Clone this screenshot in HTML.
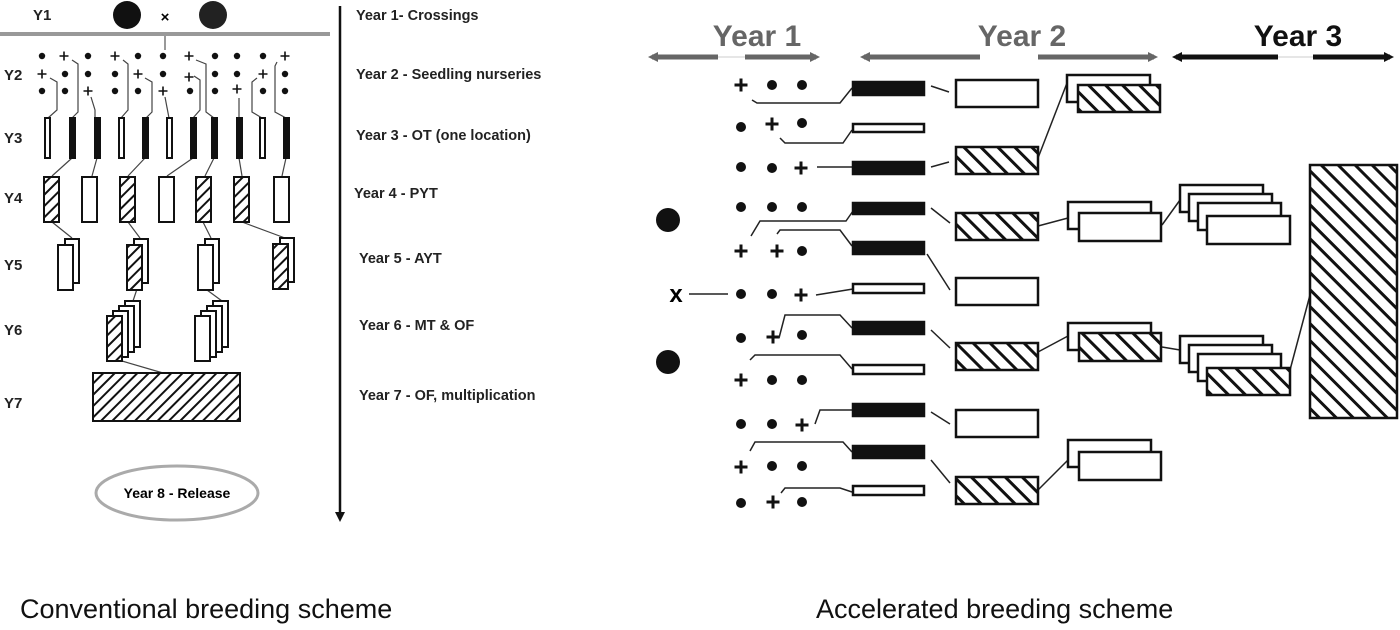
<!DOCTYPE html>
<html><head><meta charset="utf-8"><style>
html,body{margin:0;padding:0;background:#fff;}
svg{display:block;font-family:"Liberation Sans",sans-serif;}
</style></head><body>
<svg width="1400" height="630" viewBox="0 0 1400 630" xmlns="http://www.w3.org/2000/svg">
<defs>
<pattern id="hl" patternUnits="userSpaceOnUse" width="8" height="8" patternTransform="rotate(45)"><rect width="8" height="8" fill="#fff"/><rect x="0" y="0" width="2" height="8" fill="#111"/></pattern>
<pattern id="hr" patternUnits="userSpaceOnUse" width="12" height="12" patternTransform="rotate(-45)"><rect width="12" height="12" fill="#fff"/><rect x="0" y="0" width="3" height="12" fill="#111"/></pattern>
<g id="dot"><circle r="5" fill="#111"/></g>
<g id="pl"><path d="M-6.5 0H6.5M0 -6.5V6.5" stroke="#111" stroke-width="3"/></g>
<g id="dotS"><circle r="3.2" fill="#111"/></g>
<g id="plS"><path d="M-4.5 0H4.5M0 -4.5V4.5" stroke="#111" stroke-width="1.6"/></g>
<marker id="ag" markerWidth="10" markerHeight="10" refX="6" refY="5" orient="auto-start-reverse" markerUnits="userSpaceOnUse"><path d="M0 0L10 5L0 10Z" fill="#666"/></marker>
<marker id="ab" markerWidth="10" markerHeight="10" refX="6" refY="5" orient="auto-start-reverse" markerUnits="userSpaceOnUse"><path d="M0 0L10 5L0 10Z" fill="#111"/></marker>
</defs>

<!-- LEFT -->
<g font-weight="bold" font-size="15" fill="#222">
<text x="33" y="20">Y1</text><text x="4" y="80">Y2</text><text x="4" y="143">Y3</text><text x="4" y="203">Y4</text><text x="4" y="270">Y5</text><text x="4" y="335">Y6</text><text x="4" y="408">Y7</text>
</g>
<circle cx="127" cy="15" r="14" fill="#111"/><circle cx="213" cy="15" r="14" fill="#222"/>
<text x="165" y="22" text-anchor="middle" font-size="15" font-weight="bold">×</text>
<line x1="0" y1="34" x2="330" y2="34" stroke="#999" stroke-width="4"/>
<line x1="165" y1="34" x2="165" y2="50" stroke="#999" stroke-width="2"/>
<g>
<use href="#dotS" x="42" y="56"/><use href="#plS" x="42" y="74"/><use href="#dotS" x="42" y="91"/>
<use href="#plS" x="64" y="56"/><use href="#dotS" x="65" y="74"/><use href="#dotS" x="65" y="91"/>
<use href="#dotS" x="88" y="56"/><use href="#dotS" x="88" y="74"/><use href="#plS" x="88" y="91"/>
<use href="#plS" x="115" y="56"/><use href="#dotS" x="115" y="74"/><use href="#dotS" x="115" y="91"/>
<use href="#dotS" x="138" y="56"/><use href="#plS" x="138" y="74"/><use href="#dotS" x="138" y="91"/>
<use href="#dotS" x="163" y="56"/><use href="#dotS" x="163" y="74"/><use href="#plS" x="163" y="91"/>
<use href="#plS" x="189" y="56"/><use href="#plS" x="189" y="77"/><use href="#dotS" x="190" y="91"/>
<use href="#dotS" x="215" y="56"/><use href="#dotS" x="215" y="74"/><use href="#dotS" x="215" y="91"/>
<use href="#dotS" x="237" y="56"/><use href="#dotS" x="237" y="74"/><use href="#plS" x="237" y="89"/>
<use href="#dotS" x="263" y="56"/><use href="#plS" x="263" y="74"/><use href="#dotS" x="263" y="91"/>
<use href="#plS" x="285" y="56"/><use href="#dotS" x="285" y="74"/><use href="#dotS" x="285" y="91"/>
</g>
<g fill="none" stroke="#444" stroke-width="1.2">
<path d="M50 78L57 82V110L48 118"/><path d="M72 60L78 64V112L72 118"/><path d="M91 97L95 110V118"/>
<path d="M123 60L128 64V110L121 118"/><path d="M145 78L152 82V112L146 118"/><path d="M165 97L169 118"/>
<path d="M194 76L200 80V110L193 118"/><path d="M196 60L206 64V112L214 118"/><path d="M239 98V118"/>
<path d="M257 78L252 82V112L262 118"/><path d="M277 62L275 66V112L286 118"/>
<path d="M72 158L52 176"/><path d="M97 158L92 176"/><path d="M145 158L128 176"/><path d="M193 158L167 176"/><path d="M214 158L205 176"/><path d="M239 158L242 176"/><path d="M286 158L282 176"/>
<path d="M52 222L72 238"/><path d="M128 222L140 238"/><path d="M203 222L211 238"/><path d="M242 222L285 238"/>
<path d="M137 289L133 301"/><path d="M207 290L222 301"/><path d="M122 361L163 373"/>
</g>
<g stroke="#111" stroke-width="2">
<rect x="45" y="118" width="5" height="40" fill="#fff"/><rect x="70" y="118" width="5" height="40" fill="#111"/><rect x="95" y="118" width="5" height="40" fill="#111"/>
<rect x="119" y="118" width="5" height="40" fill="#fff"/><rect x="143" y="118" width="5" height="40" fill="#111"/><rect x="167" y="118" width="5" height="40" fill="#fff"/>
<rect x="191" y="118" width="5" height="40" fill="#111"/><rect x="212" y="118" width="5" height="40" fill="#111"/><rect x="237" y="118" width="5" height="40" fill="#111"/>
<rect x="260" y="118" width="5" height="40" fill="#fff"/><rect x="284" y="118" width="5" height="40" fill="#111"/>
<rect x="44" y="177" width="15" height="45" fill="url(#hl)"/><rect x="82" y="177" width="15" height="45" fill="#fff"/><rect x="120" y="177" width="15" height="45" fill="url(#hl)"/>
<rect x="159" y="177" width="15" height="45" fill="#fff"/><rect x="196" y="177" width="15" height="45" fill="url(#hl)"/><rect x="234" y="177" width="15" height="45" fill="url(#hl)"/><rect x="274" y="177" width="15" height="45" fill="#fff"/>
<rect x="65" y="239" width="14" height="44" fill="#fff"/><rect x="58" y="245" width="15" height="45" fill="#fff"/>
<rect x="134" y="239" width="14" height="44" fill="#fff"/><rect x="127" y="245" width="15" height="45" fill="url(#hl)"/>
<rect x="205" y="239" width="14" height="44" fill="#fff"/><rect x="198" y="245" width="15" height="45" fill="#fff"/>
<rect x="280" y="238" width="14" height="44" fill="#fff"/><rect x="273" y="244" width="15" height="45" fill="url(#hl)"/>
<rect x="125" y="301" width="15" height="46" fill="#fff"/><rect x="119" y="306" width="15" height="46" fill="#fff"/><rect x="113" y="311" width="15" height="46" fill="#fff"/><rect x="107" y="316" width="15" height="45" fill="url(#hl)"/>
<rect x="213" y="301" width="15" height="46" fill="#fff"/><rect x="207" y="306" width="15" height="46" fill="#fff"/><rect x="201" y="311" width="15" height="46" fill="#fff"/><rect x="195" y="316" width="15" height="45" fill="#fff"/>
<rect x="93" y="373" width="147" height="48" fill="url(#hl)"/>
</g>
<ellipse cx="177" cy="493" rx="81" ry="27" fill="#fff" stroke="#aaa" stroke-width="3"/>
<text x="177" y="498" text-anchor="middle" font-size="14" font-weight="bold">Year 8 - Release</text>
<line x1="340" y1="6" x2="340" y2="518" stroke="#111" stroke-width="2.5" marker-end="url(#ab)"/>
<g font-weight="bold" font-size="14.5" fill="#222">
<text x="356" y="20">Year 1- Crossings</text><text x="356" y="79">Year 2 - Seedling nurseries</text><text x="356" y="140">Year 3 - OT (one location)</text>
<text x="354" y="198">Year 4 - PYT</text><text x="359" y="263">Year 5 - AYT</text><text x="359" y="330">Year 6 - MT &amp; OF</text><text x="359" y="400">Year 7 - OF, multiplication</text>
</g>
<text x="20" y="618" font-size="27" fill="#111">Conventional breeding scheme</text>

<!-- RIGHT -->
<g font-weight="bold" font-size="30">
<text x="757" y="46" text-anchor="middle" fill="#666">Year 1</text>
<text x="1022" y="46" text-anchor="middle" fill="#666">Year 2</text>
<text x="1298" y="46" text-anchor="middle" fill="#111">Year 3</text>
</g>
<g stroke-width="5">
<line x1="652" y1="57" x2="718" y2="57" stroke="#666" marker-start="url(#ag)"/><line x1="745" y1="57" x2="816" y2="57" stroke="#666" marker-end="url(#ag)"/>
<line x1="864" y1="57" x2="980" y2="57" stroke="#666" marker-start="url(#ag)"/><line x1="1038" y1="57" x2="1154" y2="57" stroke="#666" marker-end="url(#ag)"/>
<line x1="1176" y1="57" x2="1278" y2="57" stroke="#111" marker-start="url(#ab)"/><line x1="1313" y1="57" x2="1390" y2="57" stroke="#111" marker-end="url(#ab)"/>
</g>
<line x1="718" y1="57" x2="745" y2="57" stroke="#ccc" stroke-width="1"/><line x1="1278" y1="57" x2="1313" y2="57" stroke="#ccc" stroke-width="1"/>
<g>
<use href="#pl" x="741" y="85"/><use href="#dot" x="772" y="85"/><use href="#dot" x="802" y="85"/>
<use href="#dot" x="741" y="127"/><use href="#pl" x="772" y="124"/><use href="#dot" x="802" y="123"/>
<use href="#dot" x="741" y="167"/><use href="#dot" x="772" y="168"/><use href="#pl" x="801" y="168"/>
<use href="#dot" x="741" y="207"/><use href="#dot" x="772" y="207"/><use href="#dot" x="802" y="207"/>
<use href="#pl" x="741" y="251"/><use href="#pl" x="777" y="251"/><use href="#dot" x="802" y="251"/>
<use href="#dot" x="741" y="294"/><use href="#dot" x="772" y="294"/><use href="#pl" x="801" y="295"/>
<use href="#dot" x="741" y="338"/><use href="#pl" x="773" y="337"/><use href="#dot" x="802" y="335"/>
<use href="#pl" x="741" y="380"/><use href="#dot" x="772" y="380"/><use href="#dot" x="802" y="380"/>
<use href="#dot" x="741" y="424"/><use href="#dot" x="772" y="424"/><use href="#pl" x="802" y="425"/>
<use href="#pl" x="741" y="467"/><use href="#dot" x="772" y="466"/><use href="#dot" x="802" y="466"/>
<use href="#dot" x="741" y="503"/><use href="#pl" x="773" y="502"/><use href="#dot" x="802" y="502"/>
</g>
<circle cx="668" cy="220" r="12" fill="#111"/><circle cx="668" cy="362" r="12" fill="#111"/>
<text x="676" y="302" text-anchor="middle" font-size="24" font-weight="bold">x</text>
<g fill="none" stroke="#222" stroke-width="1.5">
<line x1="689" y1="294" x2="728" y2="294"/>
<path d="M752 100L757 103H840L852 88"/><path d="M780 138L785 143H843L852 130"/><path d="M817 167H852"/>
<path d="M751 236L760 221H846L853 211"/><path d="M777 234L780 230H840L852 246"/><path d="M816 295L853 289"/>
<path d="M779 338L785 315H840L852 328"/><path d="M750 360L755 355H840L852 369"/><path d="M815 424L820 410H852"/>
<path d="M750 451L755 442H843L852 452"/><path d="M781 493L785 488H840L852 492"/>
<path d="M931 86L949 92"/><path d="M931 167L949 162"/><path d="M931 208L950 223"/><path d="M927 254L950 290"/>
<path d="M931 330L950 348"/><path d="M931 412L950 424"/><path d="M931 460L950 483"/>
<path d="M1038 158L1067 83"/><path d="M1038 226L1068 218"/><path d="M1038 352L1068 336"/><path d="M1038 490L1068 460"/>
<path d="M1162 225L1180 200"/><path d="M1162 347L1180 350"/><path d="M1290 370L1310 295"/>
</g>
<g stroke="#111" stroke-width="2.5">
<rect x="853" y="82" width="71" height="13" fill="#111"/><rect x="853" y="124" width="71" height="8" fill="#fff"/>
<rect x="853" y="162" width="71" height="12" fill="#111"/><rect x="853" y="203" width="71" height="11" fill="#111"/>
<rect x="853" y="242" width="71" height="12" fill="#111"/><rect x="853" y="284" width="71" height="9" fill="#fff"/>
<rect x="853" y="322" width="71" height="12" fill="#111"/><rect x="853" y="365" width="71" height="9" fill="#fff"/>
<rect x="853" y="404" width="71" height="12" fill="#111"/><rect x="853" y="446" width="71" height="12" fill="#111"/>
<rect x="853" y="486" width="71" height="9" fill="#fff"/>
<rect x="956" y="80" width="82" height="27" fill="#fff"/><rect x="956" y="147" width="82" height="27" fill="url(#hr)"/>
<rect x="956" y="213" width="82" height="27" fill="url(#hr)"/><rect x="956" y="278" width="82" height="27" fill="#fff"/>
<rect x="956" y="343" width="82" height="27" fill="url(#hr)"/><rect x="956" y="410" width="82" height="27" fill="#fff"/>
<rect x="956" y="477" width="82" height="27" fill="url(#hr)"/>
<rect x="1067" y="75" width="83" height="27" fill="#fff"/><rect x="1078" y="85" width="82" height="27" fill="url(#hr)"/>
<rect x="1068" y="202" width="83" height="27" fill="#fff"/><rect x="1079" y="213" width="82" height="28" fill="#fff"/>
<rect x="1068" y="323" width="83" height="27" fill="#fff"/><rect x="1079" y="333" width="82" height="28" fill="url(#hr)"/>
<rect x="1068" y="440" width="83" height="27" fill="#fff"/><rect x="1079" y="452" width="82" height="28" fill="#fff"/>
<rect x="1180" y="185" width="83" height="27" fill="#fff"/><rect x="1189" y="194" width="83" height="27" fill="#fff"/><rect x="1198" y="203" width="83" height="27" fill="#fff"/><rect x="1207" y="216" width="83" height="28" fill="#fff"/>
<rect x="1180" y="336" width="83" height="27" fill="#fff"/><rect x="1189" y="345" width="83" height="27" fill="#fff"/><rect x="1198" y="354" width="83" height="27" fill="#fff"/><rect x="1207" y="368" width="83" height="27" fill="url(#hr)"/>
<rect x="1310" y="165" width="87" height="253" fill="url(#hr)"/>
</g>
<text x="816" y="618" font-size="27" fill="#111">Accelerated breeding scheme</text>
</svg>
</body></html>
